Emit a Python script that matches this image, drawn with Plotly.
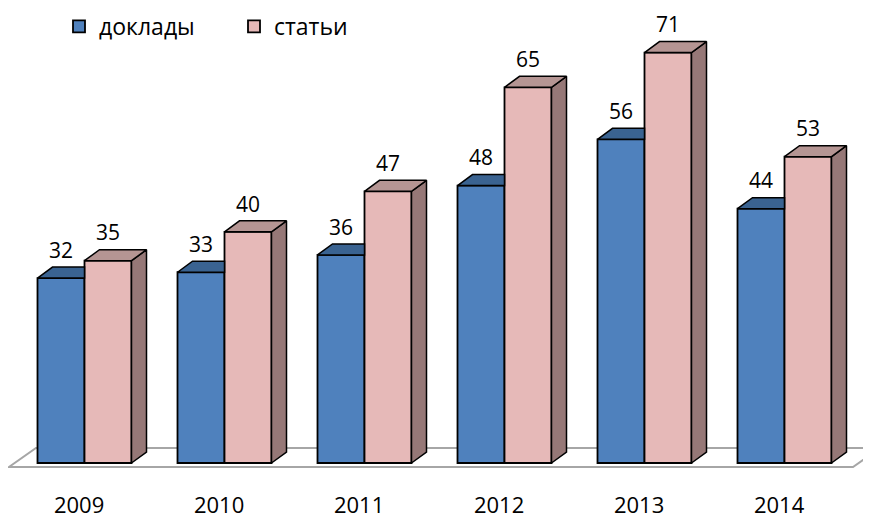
import plotly.graph_objects as go

# ---- data ----
years = ["2009", "2010", "2011", "2012", "2013", "2014"]
reports = [32, 33, 36, 48, 56, 44]      # доклады
articles = [35, 40, 47, 65, 71, 53]     # статьи
series_names = ["доклады", "статьи"]

# ---- style / geometry (pixel constants are in page coordinates) ----
OFF_X, OFF_Y = 8, 8      # page body margin: where the figure lands
W, H = 871 - OFF_X, 519 - OFF_Y
PLOT_BOTTOM = 490 - OFF_Y
MB = H - PLOT_BOTTOM
PX_CAT = 140.0             # px per category
GROUP0_PX = 84.5 - OFF_X   # px of first group centre
PX_UNIT = 5.78             # px per value unit
ZERO_PX = 463.0 - OFF_Y    # px (from top) of value 0
DX_PX, DY_PX = 15.0, 11.0
LABEL_PAD_PX = 4.0
LEGEND_CY = 26.5 - OFF_Y   # legend row centre
LEGEND_X = 51.0            # legend left edge (figure px)

BLUE, BLUE_TOP = "#4F81BD", "#3A6391"
PINK, PINK_TOP, PINK_SIDE = "#E6B9B8", "#B59593", "#967877"
FLOOR = "#A6A6A6"
FONT = "Open Sans"

x_range = [-GROUP0_PX / PX_CAT, (W - GROUP0_PX) / PX_CAT]
y_range = [-(PLOT_BOTTOM - ZERO_PX) / PX_UNIT, ZERO_PX / PX_UNIT]
DX = DX_PX / PX_CAT
DY = DY_PX / PX_UNIT
BW = 47.0 / PX_CAT          # single bar width in category units
LABEL_PAD = LABEL_PAD_PX / PX_UNIT

xs = list(range(len(years)))

fig = go.Figure()
fig.add_trace(go.Bar(x=xs, y=reports, name=series_names[0],
                     marker=dict(color=BLUE, line=dict(color="black", width=1.8)),
                     hoverinfo="skip"))
fig.add_trace(go.Bar(x=xs, y=articles, name=series_names[1],
                     marker=dict(color=PINK, line=dict(color="black", width=1.8)),
                     hoverinfo="skip"))


def poly_trace(polys, fill):
    px, py = [], []
    for pts in polys:
        for (a, b) in pts + [pts[0]]:
            px.append(a)
            py.append(b)
        px.append(None)
        py.append(None)
    return go.Scatter(x=px, y=py, mode="lines", fill="toself", fillcolor=fill,
                      line=dict(color="black", width=1.5), showlegend=False,
                      hoverinfo="skip")


pink_side, pink_top, blue_top = [], [], []
for i, (r, a) in enumerate(zip(reports, articles)):
    bl, bm, br = i - BW, i, i + BW
    pink_side.append([(br, 0), (br + DX, DY), (br + DX, a + DY), (br, a)])
    pink_top.append([(bm, a), (br, a), (br + DX, a + DY), (bm + DX, a + DY)])
    if a >= r + DY:
        blue_top.append([(bl, r), (bm, r), (bm, r + DY), (bl + DX, r + DY)])
    else:
        blue_top.append([(bl, r), (bm, r), (bm + DX, r + DY), (bl + DX, r + DY)])

fig.add_trace(poly_trace(pink_side, PINK_SIDE))
fig.add_trace(poly_trace(pink_top, PINK_TOP))
fig.add_trace(poly_trace(blue_top, BLUE_TOP))

# data labels
for vals, sgn in ((reports, -1), (articles, 1)):
    fig.add_trace(go.Scatter(x=[i + sgn * BW / 2 for i in xs],
                             y=[v + DY + LABEL_PAD for v in vals],
                             text=[str(v) for v in vals], mode="text",
                             textposition="top center",
                             textfont=dict(size=21, color="black", family=FONT),
                             showlegend=False, hoverinfo="skip"))


# floor (3D base plane), page pixel corners converted to data units
def to_x(px):
    return (px - OFF_X - GROUP0_PX) / PX_CAT


def to_y(py):
    return (ZERO_PX - (py - OFF_Y)) / PX_UNIT


fy0, fy1 = to_y(467), to_y(448)
fxl, fxr = to_x(9), to_x(853)
fdx = (27.0 / PX_CAT)
path = (f"M{fxl},{fy0} L{fxr},{fy0} L{fxr + fdx},{fy1} "
        f"L{fxl + fdx},{fy1} Z")
fig.add_shape(type="path", path=path, xref="x", yref="y", layer="below",
              line=dict(color=FLOOR, width=2), fillcolor="white")

# tick labels sit on the floor's front edge (oblique shift)
tick_shift = -((-fy0) * PX_UNIT) * (DX_PX / DY_PX) / PX_CAT

fig.update_layout(
    width=W, height=H,
    margin=dict(l=0, r=0, t=0, b=MB, autoexpand=False),
    plot_bgcolor="white", paper_bgcolor="white",
    barmode="group", bargap=1 - 2 * BW, bargroupgap=0,
    font=dict(family=FONT, color="black"),
    showlegend=True,
    legend=dict(orientation="h", xref="container", yref="container",
                x=LEGEND_X / W, y=1 - LEGEND_CY / H,
                xanchor="left", yanchor="middle",
                font=dict(size=23, family=FONT, color="black"),
                entrywidth=130, entrywidthmode="pixels",
                bgcolor="rgba(0,0,0,0)"),
    xaxis=dict(range=x_range, tickvals=[i + tick_shift for i in xs], ticktext=years,
               showgrid=False, zeroline=False, showline=False, ticks="",
               automargin=False,
               tickfont=dict(size=22, family=FONT, color="black")),
    yaxis=dict(range=y_range, visible=False, showgrid=False, zeroline=False,
               automargin=False),
)

fig.write_html("out.html")
